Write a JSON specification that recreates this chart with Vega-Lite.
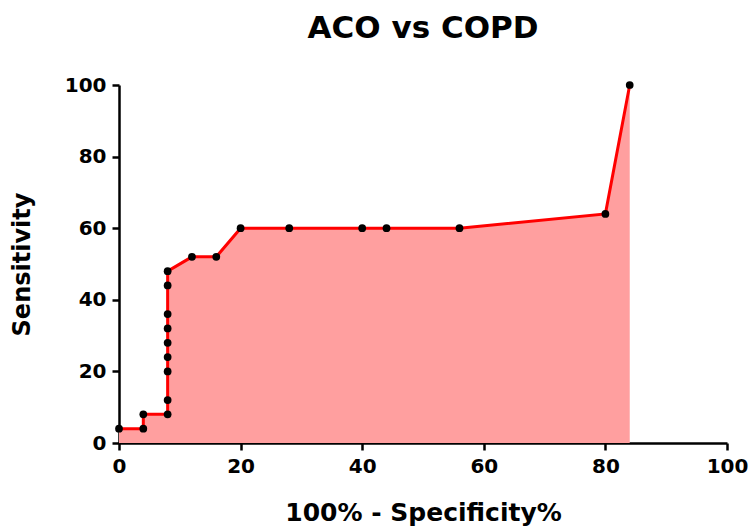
{
  "$schema": "https://vega.github.io/schema/vega-lite/v6.json",
  "width": 608,
  "height": 358,
  "autosize": {"type": "none"},
  "padding": {"left": 119, "top": 85, "right": 28, "bottom": 89},
  "background": "white",
  "title": {"text": "ACO vs COPD", "font": "DejaVu Sans", "fontSize": 31, "fontWeight": "bold", "color": "black", "anchor": "middle", "offset": 30},
  "config": {"view": {"stroke": null}},
  "data": {"values": [
    {"i": 1, "fpr": 0, "sens": 4},
    {"i": 2, "fpr": 4, "sens": 4},
    {"i": 3, "fpr": 4, "sens": 8},
    {"i": 4, "fpr": 8, "sens": 8},
    {"i": 5, "fpr": 8, "sens": 12},
    {"i": 6, "fpr": 8, "sens": 20},
    {"i": 7, "fpr": 8, "sens": 24},
    {"i": 8, "fpr": 8, "sens": 28},
    {"i": 9, "fpr": 8, "sens": 32},
    {"i": 10, "fpr": 8, "sens": 36},
    {"i": 11, "fpr": 8, "sens": 44},
    {"i": 12, "fpr": 8, "sens": 48},
    {"i": 13, "fpr": 12, "sens": 52},
    {"i": 14, "fpr": 16, "sens": 52},
    {"i": 15, "fpr": 20, "sens": 60},
    {"i": 16, "fpr": 28, "sens": 60},
    {"i": 17, "fpr": 40, "sens": 60},
    {"i": 18, "fpr": 44, "sens": 60},
    {"i": 19, "fpr": 56, "sens": 60},
    {"i": 20, "fpr": 80, "sens": 64},
    {"i": 21, "fpr": 84, "sens": 100}
  ]},
  "encoding": {
    "x": {"field": "fpr", "type": "quantitative", "scale": {"domain": [0, 100], "nice": false},
      "axis": {"title": "100% - Specificity%", "values": [0, 20, 40, 60, 80, 100], "grid": false,
        "domainColor": "black", "domainWidth": 2.5, "tickColor": "black", "tickWidth": 2.5, "tickSize": 7,
        "labelFont": "DejaVu Sans", "labelFontSize": 20, "labelFontWeight": "bold", "labelColor": "black", "labelPadding": 6, "labelFlush": false,
        "titleFont": "DejaVu Sans", "titleFontSize": 25, "titleFontWeight": "bold", "titleColor": "black", "titlePadding": 24}},
    "y": {"field": "sens", "type": "quantitative", "scale": {"domain": [0, 100], "nice": false},
      "axis": {"title": "Sensitivity", "values": [0, 20, 40, 60, 80, 100], "grid": false,
        "domainColor": "black", "domainWidth": 2.5, "tickColor": "black", "tickWidth": 2.5, "tickSize": 7,
        "labelFont": "DejaVu Sans", "labelFontSize": 20, "labelFontWeight": "bold", "labelColor": "black", "labelPadding": 6, "labelFlush": false,
        "titleFont": "DejaVu Sans", "titleFontSize": 24, "titleFontWeight": "bold", "titleColor": "black", "titlePadding": 30}}
  },
  "layer": [
    {"mark": {"type": "area", "color": "#ff9f9f", "opacity": 1}, "encoding": {"y": {"field": "sens", "type": "quantitative", "stack": null}}},
    {"mark": {"type": "line", "color": "#ff0000", "strokeWidth": 3}, "encoding": {"order": {"field": "i", "type": "quantitative"}}},
    {"mark": {"type": "point", "filled": true, "color": "black", "size": 60, "opacity": 1}}
  ]
}
